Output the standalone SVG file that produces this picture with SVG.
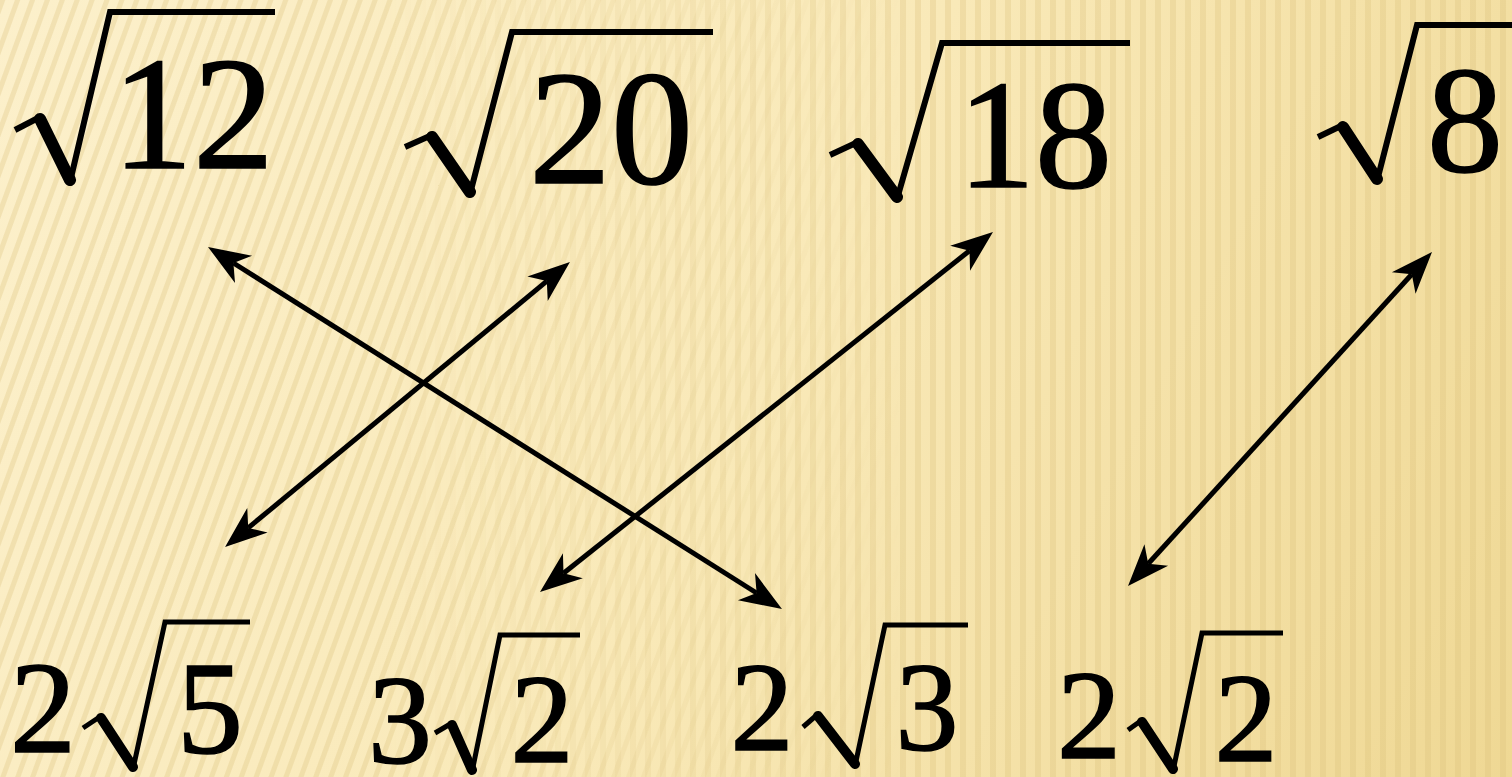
<svg xmlns="http://www.w3.org/2000/svg" width="1512" height="777" viewBox="0 0 1512 777">
<style>
.num{font-family:"Liberation Serif","Times New Roman",serif;fill:#000;stroke:#000;stroke-width:1.6;text-anchor:middle}
.thin{fill:none;stroke:#000;stroke-linejoin:miter;stroke-linecap:butt}
.thick{fill:none;stroke:#000;stroke-linecap:round}
.arrow{stroke:#000;stroke-width:5;fill:none;marker-start:url(#ah);marker-end:url(#ah)}
</style>
<defs>
<linearGradient id="bg" x1="0" y1="0" x2="1512" y2="777" gradientUnits="userSpaceOnUse">
<stop offset="0" stop-color="#FCF0CB"/>
<stop offset="0.5" stop-color="#F9E9B8"/>
<stop offset="1" stop-color="#EFD894"/>
</linearGradient>
<pattern id="diag" width="14" height="14" patternUnits="userSpaceOnUse" patternTransform="rotate(20)">
<rect x="0" y="0" width="5" height="14" fill="#DCC27A" opacity="0.3"/>
</pattern>
<pattern id="vert" width="15" height="15" patternUnits="userSpaceOnUse">
<rect x="0" y="0" width="6" height="15" fill="#DCC27A" opacity="0.3"/>
</pattern>
<linearGradient id="lm" x1="0" y1="0" x2="1512" y2="0" gradientUnits="userSpaceOnUse">
<stop offset="0.25" stop-color="#fff"/>
<stop offset="0.6" stop-color="#000"/>
</linearGradient>
<linearGradient id="rm" x1="0" y1="0" x2="1512" y2="0" gradientUnits="userSpaceOnUse">
<stop offset="0.25" stop-color="#000"/>
<stop offset="0.6" stop-color="#fff"/>
</linearGradient>
<mask id="maskL"><rect width="1512" height="777" fill="url(#lm)"/></mask>
<mask id="maskR"><rect width="1512" height="777" fill="url(#rm)"/></mask>
<marker id="ah" markerUnits="userSpaceOnUse" viewBox="-14 -18 46 36" refX="0" refY="0" markerWidth="46" markerHeight="36" orient="auto-start-reverse" overflow="visible">
<path d="M30,0 L-12,-16 L0,0 L-12,16 Z" fill="#000"/>
</marker>
</defs>
<g id="background">
<rect width="1512" height="777" fill="url(#bg)"/>
<rect width="1512" height="777" fill="url(#diag)" mask="url(#maskL)"/>
<rect width="1512" height="777" fill="url(#vert)" mask="url(#maskR)"/>
</g>
<g id="connectors">
<line class="arrow" x1="233.4" y1="263" x2="756.6" y2="593"/>
<line class="arrow" x1="546.8" y1="281.1" x2="248.2" y2="527.9"/>
<line class="arrow" x1="969.5" y1="250.7" x2="563.5" y2="573.3"/>
<line class="arrow" x1="1411.8" y1="274.2" x2="1148.2" y2="563.8"/>
</g>
<g id="sqrt12">
<path class="thin" stroke-width="6" d="M15,130 L40,117"/>
<path class="thick" stroke-width="12" d="M40,119 L70,180"/>
<path class="thin" stroke-width="6" d="M70,182 L110,12 L275,12"/>
<text class="num" x="193" y="168" font-size="162">12</text>
</g>
<g id="sqrt20">
<path class="thin" stroke-width="6" d="M405,147 L432,135"/>
<path class="thick" stroke-width="12" d="M432,137 L470,192"/>
<path class="thin" stroke-width="6" d="M470,194 L512,32 L713,32"/>
<text class="num" x="611" y="183" font-size="164">20</text>
</g>
<g id="sqrt18">
<path class="thin" stroke-width="6" d="M830,155 L858,142"/>
<path class="thick" stroke-width="12" d="M858,144 L897,197"/>
<path class="thin" stroke-width="6" d="M897,199 L942,43 L1130,43"/>
<text class="num" x="1035" y="187" font-size="154">18</text>
</g>
<g id="sqrt8">
<path class="thin" stroke-width="6" d="M1318,137 L1343,125"/>
<path class="thick" stroke-width="12" d="M1343,127 L1377,179"/>
<path class="thin" stroke-width="6" d="M1377,181 L1417,25 L1512,25"/>
<text class="num" x="1465" y="172" font-size="152">8</text>
</g>
<g id="twoSqrt5">
<text class="num" x="43" y="752" font-size="132">2</text>
<path class="thin" stroke-width="5" d="M83,728 L101,716"/>
<path class="thick" stroke-width="10" d="M101,718 L133,767"/>
<path class="thin" stroke-width="5" d="M133,769 L165,622 L250,622"/>
<text class="num" x="210" y="753" font-size="132">5</text>
</g>
<g id="threeSqrt2">
<text class="num" x="400" y="763" font-size="128">3</text>
<path class="thin" stroke-width="5" d="M435,733 L452,723"/>
<path class="thick" stroke-width="10" d="M452,725 L472,770"/>
<path class="thin" stroke-width="5" d="M472,772 L500,635 L580,635"/>
<text class="num" x="542" y="762" font-size="126">2</text>
</g>
<g id="twoSqrt3">
<text class="num" x="762" y="750" font-size="126">2</text>
<path class="thin" stroke-width="5" d="M803,727 L818,714"/>
<path class="thick" stroke-width="10" d="M818,716 L855,764"/>
<path class="thin" stroke-width="5" d="M855,766 L885,625 L968,625"/>
<text class="num" x="927" y="750" font-size="126">3</text>
</g>
<g id="twoSqrt2">
<text class="num" x="1089" y="758" font-size="128">2</text>
<path class="thin" stroke-width="5" d="M1128,730 L1142,720"/>
<path class="thick" stroke-width="10" d="M1142,722 L1173,769"/>
<path class="thin" stroke-width="5" d="M1173,771 L1202,633 L1283,633"/>
<text class="num" x="1246" y="761" font-size="126">2</text>
</g>
</svg>
